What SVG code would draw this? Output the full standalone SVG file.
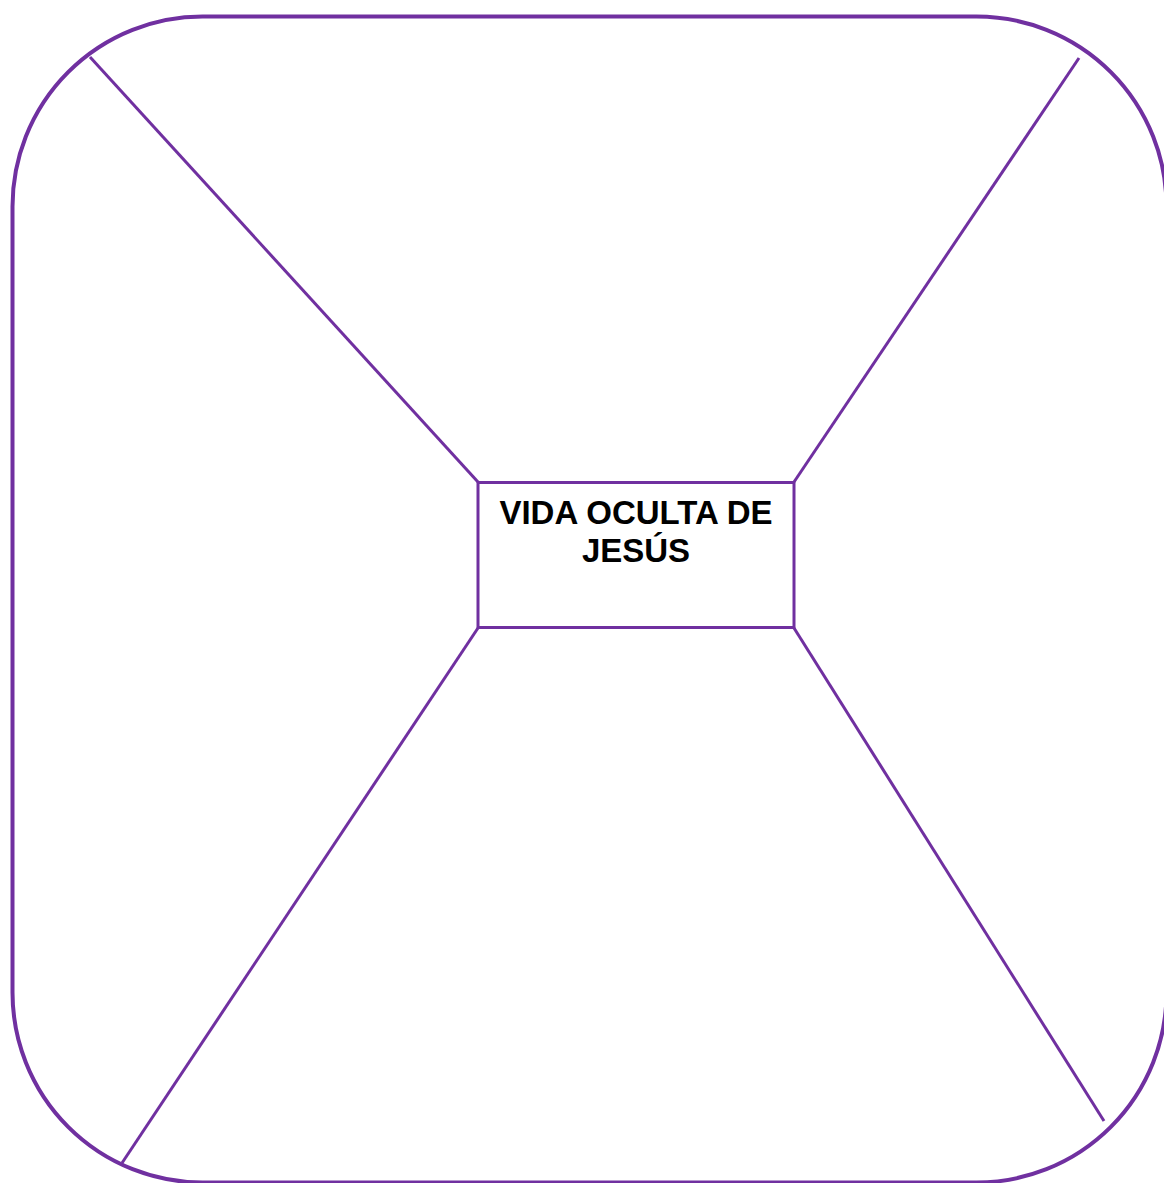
<svg xmlns="http://www.w3.org/2000/svg" width="1164" height="1183" viewBox="0 0 1164 1183">
<style>
.frame{fill:none;stroke:#7030A0;stroke-width:4}
.box{fill:#fff;stroke:#7030A0;stroke-width:3}
.conn{stroke:#7030A0;stroke-width:3;fill:none}
.lbl{font-family:"Liberation Sans",Arial,sans-serif;font-weight:bold;font-size:33px;fill:#000;text-anchor:middle}
</style>
<rect width="1164" height="1183" fill="#fff"/>
<g id="frame"><rect class="frame" x="12.5" y="16.5" width="1154" height="1166" rx="190" ry="190"/></g>
<g id="connectors">
<line class="conn" x1="90" y1="57" x2="478" y2="482"/>
<line class="conn" x1="1079" y1="58" x2="794" y2="482"/>
<line class="conn" x1="478" y1="628" x2="122" y2="1163"/>
<line class="conn" x1="794" y1="628" x2="1104" y2="1121"/>
</g>
<g id="center">
<rect class="box" x="478" y="482.5" width="316" height="145"/>
<text class="lbl" x="636" y="523.5">VIDA OCULTA DE</text>
<text class="lbl" x="636" y="562">JESÚS</text>
</g>
</svg>
